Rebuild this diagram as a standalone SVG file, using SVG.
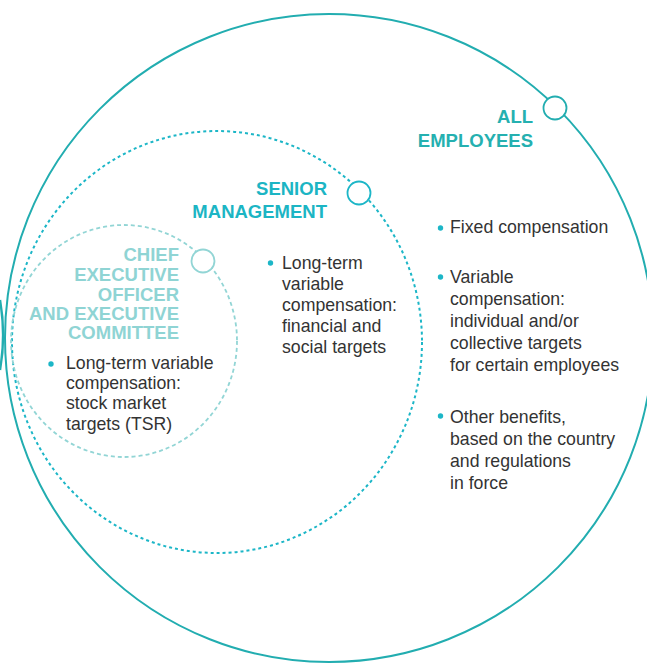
<svg xmlns="http://www.w3.org/2000/svg" width="647" height="664" viewBox="0 0 647 664">
<style>
.ring{fill:none;stroke:#22adb0;stroke-width:2}
.sm{fill:none;stroke:#1cb6c7;stroke-width:2;stroke-dasharray:3 3}
.ceo{fill:none;stroke:#92d5d5;stroke-width:1.8;stroke-dasharray:4 3}
.knob{fill:#fff;stroke-width:1.8}
.h{font-family:"Liberation Sans",Arial,sans-serif;font-weight:bold;font-size:18.5px;text-anchor:end}
.b{font-family:"Liberation Sans",Arial,sans-serif;font-size:17.7px;fill:#333}
.dot{fill:#1cb6c7}
</style>
<rect width="647" height="664" fill="#fff"/>
<path d="M0,300 A200,200 0 0 1 0,370" fill="none" stroke="#22adb0" stroke-width="2.5"/>
<g id="all-employees">
<circle class="ring" cx="329" cy="338" r="324"/>
<circle class="knob" cx="555" cy="108" r="11.5" stroke="#22adb0"/>
<text class="h" fill="#25b0b0"><tspan x="533" y="123">ALL</tspan><tspan x="533" y="147">EMPLOYEES</tspan></text>
<circle class="dot" cx="440.5" cy="228" r="2.7"/>
<circle class="dot" cx="440.5" cy="277" r="2.7"/>
<circle class="dot" cx="440.5" cy="416" r="2.7"/>
<text class="b"><tspan x="450" y="233">Fixed compensation</tspan></text>
<text class="b"><tspan x="450" y="283">Variable</tspan><tspan x="450" y="305">compensation:</tspan><tspan x="450" y="327">individual and/or</tspan><tspan x="450" y="349">collective targets</tspan><tspan x="450" y="371">for certain employees</tspan></text>
<text class="b"><tspan x="450" y="423">Other benefits,</tspan><tspan x="450" y="445">based on the country</tspan><tspan x="450" y="467">and regulations</tspan><tspan x="450" y="489">in force</tspan></text>
</g>
<g id="senior-management">
<ellipse class="sm" cx="217" cy="342" rx="205" ry="211"/>
<circle class="knob" cx="359" cy="193" r="11.5" stroke="#1cb6c7"/>
<text class="h" fill="#1cb5c4"><tspan x="327" y="195">SENIOR</tspan><tspan x="327" y="218">MANAGEMENT</tspan></text>
<circle class="dot" cx="270.5" cy="263" r="2.7"/>
<text class="b"><tspan x="282" y="269">Long-term</tspan><tspan x="282" y="290">variable</tspan><tspan x="282" y="311">compensation:</tspan><tspan x="282" y="332">financial and</tspan><tspan x="282" y="353">social targets</tspan></text>
</g>
<g id="ceo-executive-committee">
<ellipse class="ceo" cx="124" cy="341" rx="113" ry="116"/>
<circle class="knob" cx="203" cy="261" r="11.5" stroke="#92d5d5"/>
<text class="h" fill="#8fd4d4"><tspan x="179" y="261">CHIEF</tspan><tspan x="179" y="281">EXECUTIVE</tspan><tspan x="179" y="301">OFFICER</tspan><tspan x="179" y="320">AND EXECUTIVE</tspan><tspan x="179" y="339">COMMITTEE</tspan></text>
<circle class="dot" cx="51" cy="364" r="2.7"/>
<text class="b"><tspan x="66" y="369">Long-term variable</tspan><tspan x="66" y="389">compensation:</tspan><tspan x="66" y="409">stock market</tspan><tspan x="66" y="430">targets (TSR)</tspan></text>
</g>
</svg>
